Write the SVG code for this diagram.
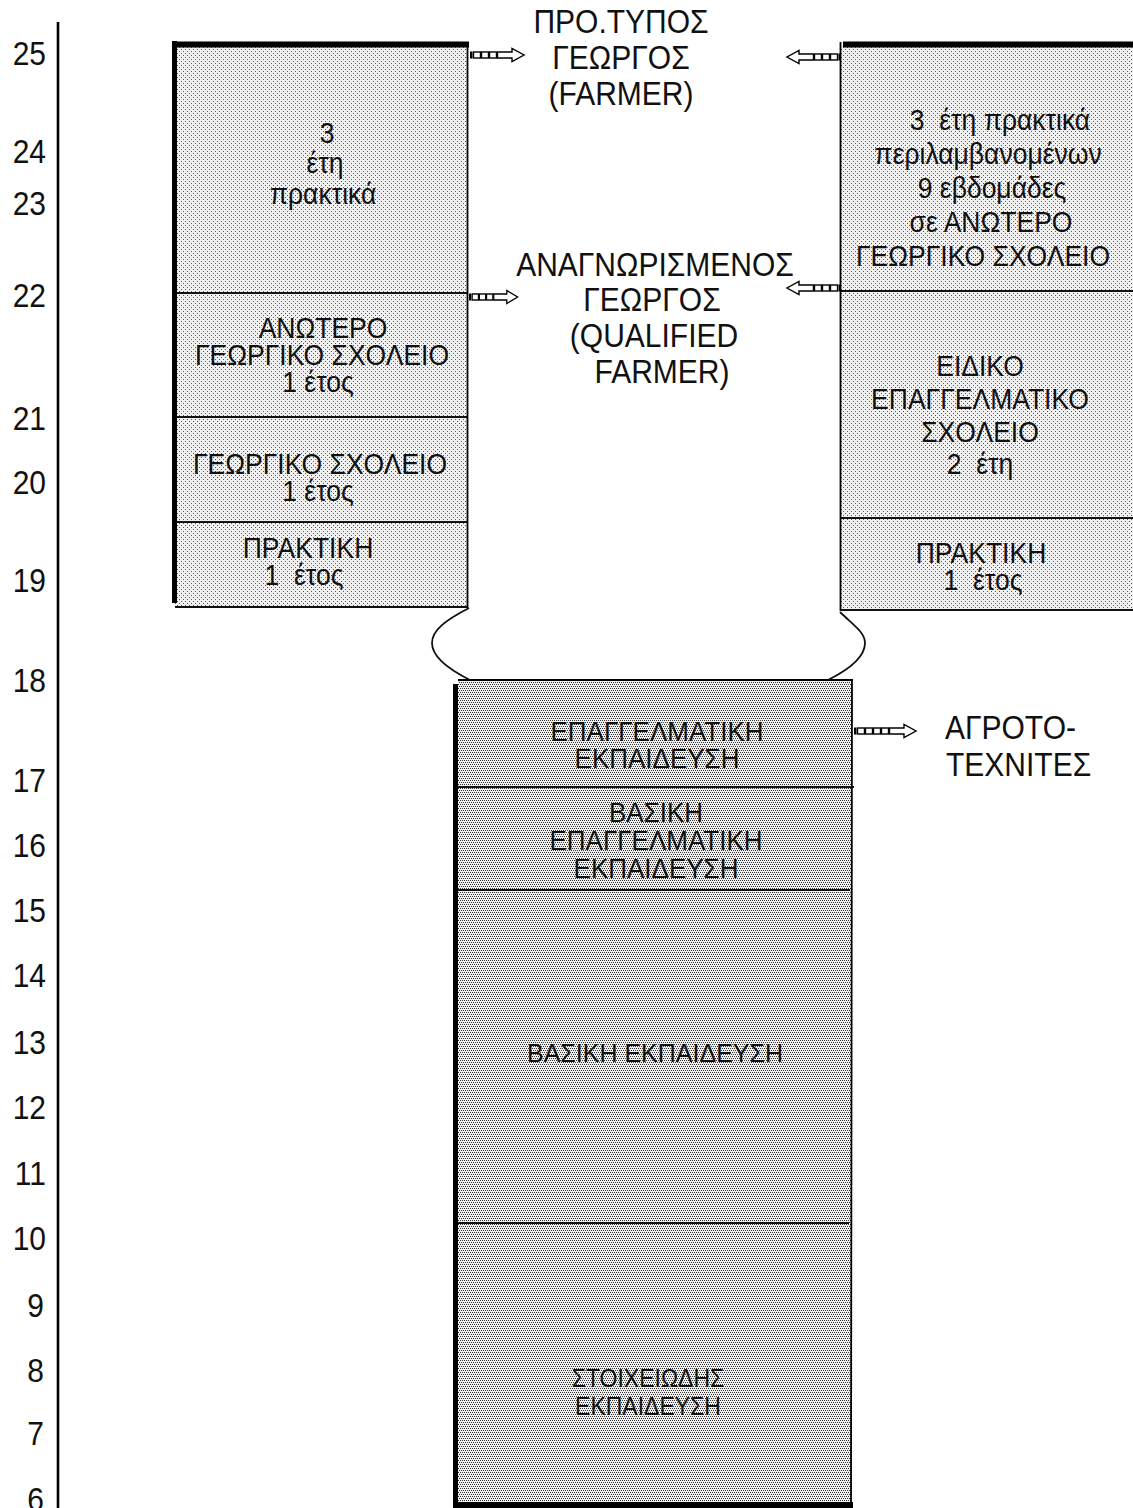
<svg xmlns="http://www.w3.org/2000/svg" xmlns:xlink="http://www.w3.org/1999/xlink" width="1133" height="1508" viewBox="0 0 1133 1508">
  <style>
    text { font-family: "Liberation Sans", Arial, "DejaVu Sans", sans-serif; fill: #111; white-space: pre; }
    .ax { font-size: 30px; text-anchor: end; }
    .hd { font-size: 30px; text-anchor: middle; }
    .hl { font-size: 30px; text-anchor: start; }
    .bx { font-size: 26.5px; text-anchor: middle; }
    .cb { font-size: 26px; text-anchor: middle; }
    .edge { stroke: #000; fill: none; stroke-width: 1.8; }
    .thick { stroke: #000; fill: none; stroke-width: 6; }
    .div { stroke: #111; fill: none; stroke-width: 2; }
    .curve { stroke: #111; fill: none; stroke-width: 1.8; }
    .chain rect.box, .chain path { fill: #fff; stroke: #000; stroke-width: 1.4; }
  </style>
  <defs>
    <!-- light halftone used by the side columns -->
    <pattern id="dotsLight" width="4" height="4" patternUnits="userSpaceOnUse">
      <rect width="4" height="4" fill="#f1f1f1"/>
      <rect x="1" y="1" width="1" height="1" fill="#555"/>
      <rect x="3" y="3" width="1" height="1" fill="#555"/>
    </pattern>
    <!-- denser halftone used by the central column -->
    <pattern id="dotsDark" width="4" height="4" patternUnits="userSpaceOnUse">
      <rect width="4" height="4" fill="#f0f0f0"/>
      <rect x="0" y="0" width="1" height="1" fill="#333"/>
      <rect x="2" y="0" width="1" height="1" fill="#333"/>
      <rect x="1" y="2" width="1" height="1" fill="#333"/>
      <rect x="3" y="2" width="1" height="1" fill="#333"/>
    </pattern>
    <!-- chain of small boxes ending in a hollow arrow, pointing right -->
    <g id="chain3" class="chain">
      <rect x="0" y="-3.5" width="2.5" height="7" fill="#000"/>
      <rect class="box" x="3.5" y="-3" width="7" height="6"/>
      <rect class="box" x="11.5" y="-3" width="7" height="6"/>
      <rect class="box" x="19.5" y="-3" width="7" height="6"/>
      <path d="M27.5,-3 H42 V-6.5 L54,0 L42,6.5 V3 H27.5 Z"/>
    </g>
    <g id="chain4" class="chain">
      <rect x="0" y="-3.5" width="2.5" height="7" fill="#000"/>
      <rect class="box" x="3.5" y="-3" width="7" height="6"/>
      <rect class="box" x="11.5" y="-3" width="7" height="6"/>
      <rect class="box" x="19.5" y="-3" width="7" height="6"/>
      <rect class="box" x="27.5" y="-3" width="7" height="6"/>
      <path d="M35.5,-3 H50 V-6.5 L62,0 L50,6.5 V3 H35.5 Z"/>
    </g>
  </defs>

  <rect width="1133" height="1508" fill="#fff"/>

  <!-- age axis -->
  <g id="axis">
    <line x1="58" y1="22" x2="58" y2="1508" stroke="#000" stroke-width="2.6"/>
    <text class="ax" transform="translate(46 65) scale(1 1.12)">25</text>
    <text class="ax" transform="translate(46 163) scale(1 1.12)">24</text>
    <text class="ax" transform="translate(46 215) scale(1 1.12)">23</text>
    <text class="ax" transform="translate(46 307) scale(1 1.12)">22</text>
    <text class="ax" transform="translate(46 430) scale(1 1.12)">21</text>
    <text class="ax" transform="translate(46 494) scale(1 1.12)">20</text>
    <text class="ax" transform="translate(46 592) scale(1 1.12)">19</text>
    <text class="ax" transform="translate(46 692) scale(1 1.12)">18</text>
    <text class="ax" transform="translate(46 792) scale(1 1.12)">17</text>
    <text class="ax" transform="translate(46 857) scale(1 1.12)">16</text>
    <text class="ax" transform="translate(46 922) scale(1 1.12)">15</text>
    <text class="ax" transform="translate(46 987) scale(1 1.12)">14</text>
    <text class="ax" transform="translate(46 1054) scale(1 1.12)">13</text>
    <text class="ax" transform="translate(46 1119) scale(1 1.12)">12</text>
    <text class="ax" transform="translate(46 1185) scale(1 1.12)">11</text>
    <text class="ax" transform="translate(46 1250) scale(1 1.12)">10</text>
    <text class="ax" transform="translate(44 1317) scale(1 1.12)">9</text>
    <text class="ax" transform="translate(44 1382) scale(1 1.12)">8</text>
    <text class="ax" transform="translate(44 1445) scale(1 1.12)">7</text>
    <text class="ax" transform="translate(44 1511) scale(1 1.12)">6</text>
  </g>

  <!-- left column: practice, agricultural schools -->
  <g id="left-column">
    <rect x="175" y="46" width="292" height="561" fill="url(#dotsLight)"/>
    <g id="left-practice-3y">
      <text class="bx" transform="translate(325 143) scale(1 1.08)"><tspan x="2" y="0">3</tspan><tspan x="0" dy="27.8">έτη</tspan><tspan x="-2" dy="28.7">πρακτικά</tspan></text>
    </g>
    <g id="left-higher-school">
      <line class="div" x1="175" y1="293" x2="467" y2="293"/>
      <text class="bx" transform="translate(322 338) scale(1 1.08)"><tspan x="1" y="0">ΑΝΩΤΕΡΟ</tspan><tspan x="0" dy="25">ΓΕΩΡΓΙΚΟ ΣΧΟΛΕΙΟ</tspan><tspan x="-4" dy="25">1 έτος</tspan></text>
    </g>
    <g id="left-school">
      <line class="div" x1="175" y1="417" x2="467" y2="417"/>
      <text class="bx" transform="translate(320 474) scale(1 1.08)"><tspan x="0" y="0">ΓΕΩΡΓΙΚΟ ΣΧΟΛΕΙΟ</tspan><tspan x="-2" dy="25">1 έτος</tspan></text>
    </g>
    <g id="left-practice-1y">
      <line class="div" x1="175" y1="522" x2="467" y2="522"/>
      <text class="bx" transform="translate(308 558) scale(1 1.08)"><tspan x="0" y="0">ΠΡΑΚΤΙΚΗ</tspan><tspan x="-4" dy="25">1  έτος</tspan></text>
    </g>
    <line class="thick" x1="172" y1="44.5" x2="469" y2="44.5"/>
    <line x1="174.5" y1="41" x2="174.5" y2="603" stroke="#000" stroke-width="5"/>
    <line class="edge" x1="467.5" y1="44" x2="467.5" y2="608"/>
    <line class="div" x1="175" y1="607" x2="468" y2="607"/>
  </g>

  <!-- right column: practice, vocational school -->
  <g id="right-column">
    <rect x="841" y="46" width="300" height="564" fill="url(#dotsLight)"/>
    <g id="right-practice-3y">
      <text class="bx" transform="translate(988 130) scale(1 1.08)"><tspan x="12" y="0">3  έτη πρακτικά</tspan><tspan x="0" dy="31.5">περιλαμβανομένων</tspan><tspan x="4" dy="31.5">9 εβδομάδες</tspan><tspan x="3" dy="31.5">σε ΑΝΩΤΕΡΟ</tspan><tspan x="-5" dy="31.5">ΓΕΩΡΓΙΚΟ ΣΧΟΛΕΙΟ</tspan></text>
    </g>
    <g id="right-vocational-school">
      <line class="div" x1="840" y1="291" x2="1133" y2="291"/>
      <text class="bx" transform="translate(980 376) scale(1 1.08)"><tspan x="0" y="0">ΕΙΔΙΚΟ</tspan><tspan x="0" dy="30.6">ΕΠΑΓΓΕΛΜΑΤΙΚΟ</tspan><tspan x="0" dy="30.6">ΣΧΟΛΕΙΟ</tspan><tspan x="0" dy="29.6">2  έτη</tspan></text>
    </g>
    <g id="right-practice-1y">
      <line class="div" x1="840" y1="518" x2="1133" y2="518"/>
      <text class="bx" transform="translate(981 563) scale(1 1.08)"><tspan x="0" y="0">ΠΡΑΚΤΙΚΗ</tspan><tspan x="2" dy="25">1  έτος</tspan></text>
    </g>
    <line class="thick" x1="843" y1="44.5" x2="1133" y2="44.5"/>
    <line class="edge" x1="840.5" y1="42" x2="840.5" y2="611"/>
    <line class="div" x1="840" y1="610" x2="1133" y2="610"/>
  </g>

  <!-- central column: basic and vocational education -->
  <g id="center-column">
    <rect x="458" y="680" width="394" height="824" fill="url(#dotsDark)"/>
    <g id="center-vocational">
      <text class="cb" transform="translate(657 741) scale(1 1.05)"><tspan x="0" y="0">ΕΠΑΓΓΕΛΜΑΤΙΚΗ</tspan><tspan x="0" dy="25.7">ΕΚΠΑΙΔΕΥΣΗ</tspan></text>
    </g>
    <g id="center-basic-vocational">
      <line class="div" x1="458" y1="787" x2="854" y2="787"/>
      <text class="cb" transform="translate(656 822) scale(1 1.05)"><tspan x="0" y="0">ΒΑΣΙΚΗ</tspan><tspan x="0" dy="26.7">ΕΠΑΓΓΕΛΜΑΤΙΚΗ</tspan><tspan x="0" dy="26.7">ΕΚΠΑΙΔΕΥΣΗ</tspan></text>
    </g>
    <g id="center-basic">
      <line class="div" x1="458" y1="890" x2="850" y2="890"/>
      <text class="cb" style="font-size:25px" transform="translate(655 1062) scale(1 1.05)">ΒΑΣΙΚΗ ΕΚΠΑΙΔΕΥΣΗ</text>
    </g>
    <g id="center-primary">
      <line class="div" x1="458" y1="1223" x2="849" y2="1223"/>
      <text class="cb" style="font-size:23px" transform="translate(648 1387) scale(1 1.1)"><tspan x="0" y="0">ΣΤΟΙΧΕΙΩΔΗΣ</tspan><tspan x="0" dy="25.5">ΕΚΠΑΙΔΕΥΣΗ</tspan></text>
    </g>
    <line class="edge" x1="458" y1="680" x2="853" y2="680"/>
    <line x1="455.5" y1="684" x2="455.5" y2="1508" stroke="#000" stroke-width="5"/>
    <line class="edge" x1="852" y1="680" x2="851" y2="1503"/>
    <line class="thick" x1="453" y1="1505" x2="853" y2="1505"/>
  </g>

  <!-- outcome labels -->
  <g id="model-farmer">
    <text class="hd" transform="translate(621 33) scale(1 1.08)"><tspan x="0" y="0">ΠΡΟ.ΤΥΠΟΣ</tspan><tspan x="0" dy="33.3">ΓΕΩΡΓΟΣ</tspan><tspan x="0" dy="33.3">(FARMER)</tspan></text>
  </g>
  <g id="qualified-farmer">
    <text class="hd" transform="translate(655 276) scale(1 1.08)"><tspan x="0" y="0">ΑΝΑΓΝΩΡΙΣΜΕΝΟΣ</tspan><tspan x="-3" dy="32.4">ΓΕΩΡΓΟΣ</tspan><tspan x="-1" dy="33.8">(QUALIFIED</tspan><tspan x="7" dy="33.3">FARMER)</tspan></text>
  </g>
  <g id="rural-craftsmen">
    <text class="hl" transform="translate(945 739) scale(1 1.08)"><tspan x="0" y="0">ΑΓΡΟΤΟ-</tspan><tspan x="1" dy="34.3">ΤΕΧΝΙΤΕΣ</tspan></text>
  </g>

  <!-- connectors -->
  <g id="connectors">
    <!-- funnel joining the two upper columns to the central one -->
    <path class="curve" d="M469,608 C446,620 432,630 432,643 C432,658 450,670 470,680"/>
    <path class="curve" d="M840,612 C852,624 865,632 865,643 C865,658 848,670 828,680"/>
    <!-- arrows to the outcome labels -->
    <use xlink:href="#chain3" href="#chain3" transform="translate(470 55)"/>
    <use xlink:href="#chain3" href="#chain3" transform="translate(469 297) scale(0.9 1)"/>
    <use xlink:href="#chain3" href="#chain3" transform="translate(841 57) scale(-1 1)"/>
    <use xlink:href="#chain3" href="#chain3" transform="translate(841 288) scale(-1 1)"/>
    <use xlink:href="#chain4" href="#chain4" transform="translate(854 731)"/>
  </g>
</svg>
